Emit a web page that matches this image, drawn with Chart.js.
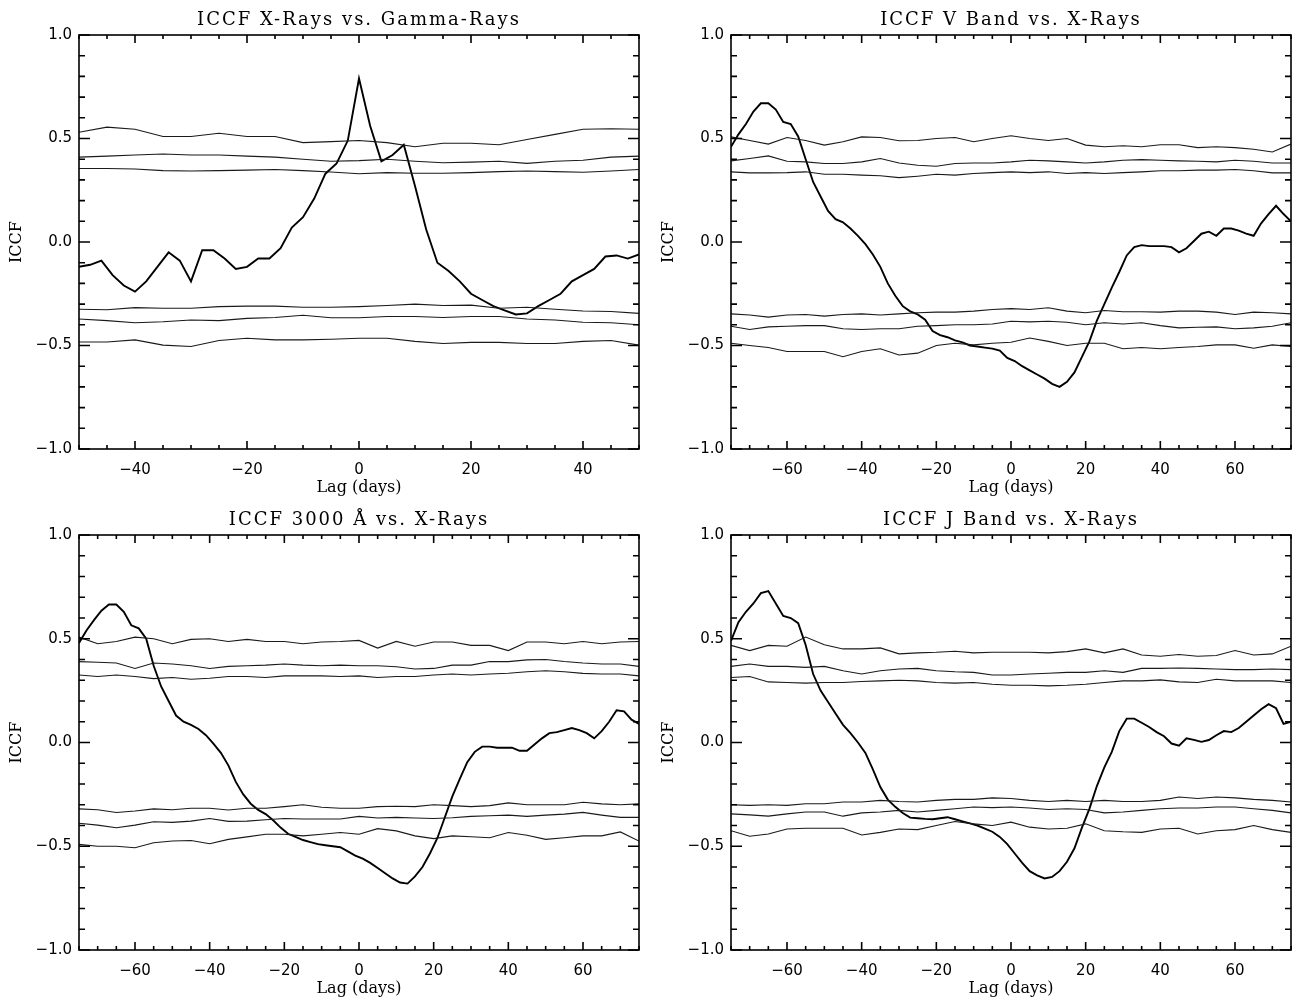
<!DOCTYPE html>
<html>
<head>
<meta charset="utf-8">
<script src="https://cdn.jsdelivr.net/npm/chart.js@4.4.0/dist/chart.umd.min.js"></script>
<style>
  body { margin: 0; background: #fff; }
  #wrap { position: relative; width: 1303px; height: 1001px; background: #fff; }
  canvas { position: absolute; }
</style>
</head>
<body>
<div id="wrap">
  <canvas id="c1" width="651" height="500" style="left:0;top:0"></canvas>
  <canvas id="c2" width="651" height="500" style="left:652px;top:0"></canvas>
  <canvas id="c3" width="651" height="501" style="left:0;top:500px"></canvas>
  <canvas id="c4" width="651" height="501" style="left:652px;top:500px"></canvas>
</div>
<script>
// lags (days)
const mainLag50 = [-50,-48,-46,-44,-42,-40,-38,-36,-34,-32,-30,-28,-26,-24,-22,-20,-18,-16,-14,-12,-10,-8,-6,-4,-2,
  0,2,4,6,8,10,12,14,16,18,20,22,24,26,28,30,32,34,36,38,40,42,44,46,48,50];
const confLag50 = [-50,-45,-40,-35,-30,-25,-20,-15,-10,-5,0,5,10,15,20,25,30,35,40,45,50];
const mainLag75 = [-75,-73,-71,-69,-67,-65,-63,-61,-59,-57,-55,-53,-51,-49,-47,-45,-43,-41,-39,-37,-35,-33,-31,-29,-27,
  -25,-23,-21,-19,-17,-15,-13,-11,-9,-7,-5,-3,-1,1,3,5,7,9,11,13,15,17,19,21,23,25,27,29,31,33,35,37,39,41,43,45,47,
  49,51,53,55,57,59,61,63,65,67,69,71,73,75];
const confLag75 = [-75,-70,-65,-60,-55,-50,-45,-40,-35,-30,-25,-20,-15,-10,-5,0,5,10,15,20,25,30,35,40,45,50,55,60,65,70,75];

// X-Rays vs. Gamma-Rays
const xgIccf = [-0.12,-0.11,-0.09,-0.16,-0.21,-0.24,-0.19,-0.12,-0.05,-0.09,-0.19,-0.04,-0.04,-0.08,-0.13,-0.12,-0.08,
  -0.08,-0.03,0.07,0.12,0.21,0.33,0.38,0.49,0.79,0.56,0.39,0.42,0.47,0.27,0.06,-0.10,-0.14,-0.19,-0.25,-0.28,-0.31,
  -0.33,-0.35,-0.345,-0.31,-0.28,-0.25,-0.19,-0.16,-0.13,-0.07,-0.065,-0.08,-0.06];
const xgUp1 = [0.53,0.555,0.545,0.51,0.51,0.525,0.51,0.51,0.48,0.485,0.49,0.48,0.46,0.477,0.477,0.47,0.495,0.52,0.545,0.547,0.545];
const xgUp2 = [0.41,0.415,0.42,0.425,0.42,0.42,0.415,0.41,0.40,0.39,0.393,0.40,0.39,0.383,0.386,0.39,0.38,0.39,0.395,0.41,0.415];
const xgUp3 = [0.355,0.355,0.353,0.345,0.343,0.345,0.347,0.35,0.345,0.338,0.33,0.335,0.332,0.332,0.335,0.34,0.343,0.34,0.337,0.343,0.35];
const xgLo1 = [-0.325,-0.327,-0.317,-0.32,-0.32,-0.312,-0.31,-0.31,-0.315,-0.315,-0.312,-0.307,-0.30,-0.307,-0.305,-0.32,-0.315,-0.325,-0.333,-0.336,-0.345];
const xgLo2 = [-0.372,-0.38,-0.39,-0.385,-0.377,-0.38,-0.369,-0.365,-0.354,-0.366,-0.366,-0.36,-0.36,-0.365,-0.36,-0.36,-0.372,-0.377,-0.388,-0.39,-0.40];
const xgLo3 = [-0.483,-0.483,-0.473,-0.498,-0.505,-0.476,-0.465,-0.473,-0.473,-0.47,-0.465,-0.465,-0.48,-0.49,-0.485,-0.485,-0.49,-0.49,-0.48,-0.476,-0.498];

// V Band vs. X-Rays
const vIccf = [0.46,0.52,0.57,0.63,0.67,0.67,0.64,0.58,0.57,0.51,0.40,0.29,0.22,0.15,0.11,0.095,0.065,0.03,-0.01,-0.06,
  -0.12,-0.20,-0.26,-0.31,-0.335,-0.35,-0.375,-0.43,-0.45,-0.46,-0.475,-0.485,-0.50,-0.505,-0.51,-0.515,-0.525,-0.56,
  -0.575,-0.60,-0.62,-0.64,-0.66,-0.685,-0.70,-0.675,-0.63,-0.555,-0.48,-0.38,-0.30,-0.22,-0.145,-0.065,-0.025,-0.015,
  -0.02,-0.02,-0.02,-0.025,-0.05,-0.03,0.005,0.04,0.05,0.03,0.065,0.065,0.055,0.04,0.03,0.09,0.135,0.175,0.135,0.10];
const vUp1 = [0.508,0.49,0.473,0.505,0.49,0.468,0.484,0.508,0.505,0.489,0.49,0.50,0.505,0.484,0.50,0.513,0.50,0.49,0.50,0.468,0.46,0.465,0.46,0.47,0.47,0.456,0.46,0.456,0.448,0.435,0.473];
const vUp2 = [0.392,0.403,0.416,0.39,0.387,0.379,0.379,0.387,0.403,0.382,0.371,0.366,0.379,0.382,0.382,0.387,0.395,0.392,0.387,0.382,0.387,0.395,0.398,0.395,0.392,0.39,0.387,0.395,0.39,0.382,0.382];
const vUp3 = [0.339,0.334,0.334,0.335,0.339,0.327,0.327,0.323,0.32,0.311,0.318,0.327,0.323,0.331,0.335,0.339,0.335,0.339,0.331,0.335,0.331,0.335,0.339,0.344,0.344,0.347,0.347,0.35,0.344,0.334,0.334];
const vLo1 = [-0.347,-0.353,-0.363,-0.353,-0.35,-0.358,-0.35,-0.347,-0.353,-0.347,-0.342,-0.339,-0.339,-0.334,-0.326,-0.322,-0.326,-0.318,-0.334,-0.342,-0.331,-0.337,-0.337,-0.339,-0.334,-0.334,-0.339,-0.35,-0.339,-0.342,-0.347];
const vLo2 = [-0.407,-0.423,-0.41,-0.407,-0.404,-0.404,-0.419,-0.423,-0.419,-0.419,-0.407,-0.404,-0.40,-0.40,-0.396,-0.383,-0.386,-0.383,-0.388,-0.40,-0.39,-0.396,-0.39,-0.404,-0.415,-0.412,-0.41,-0.419,-0.415,-0.407,-0.39];
const vLo3 = [-0.489,-0.50,-0.51,-0.529,-0.529,-0.529,-0.554,-0.529,-0.516,-0.546,-0.537,-0.50,-0.489,-0.497,-0.489,-0.484,-0.464,-0.48,-0.50,-0.489,-0.489,-0.516,-0.51,-0.516,-0.51,-0.505,-0.497,-0.497,-0.513,-0.497,-0.505];

// 3000 A vs. X-Rays
const uvIccf = [0.48,0.54,0.59,0.635,0.665,0.665,0.63,0.565,0.55,0.50,0.37,0.27,0.20,0.13,0.10,0.085,0.065,0.035,-0.005,
  -0.05,-0.11,-0.19,-0.25,-0.295,-0.325,-0.345,-0.375,-0.41,-0.44,-0.455,-0.47,-0.48,-0.49,-0.495,-0.50,-0.505,-0.525,
  -0.545,-0.56,-0.58,-0.605,-0.63,-0.655,-0.675,-0.68,-0.645,-0.60,-0.535,-0.46,-0.36,-0.26,-0.175,-0.095,-0.045,-0.02,
  -0.02,-0.025,-0.025,-0.025,-0.04,-0.04,-0.01,0.02,0.045,0.05,0.06,0.07,0.06,0.045,0.02,0.055,0.10,0.155,0.15,0.11,0.09];
const uvUp1 = [0.508,0.476,0.487,0.508,0.50,0.476,0.497,0.50,0.487,0.497,0.487,0.487,0.476,0.484,0.487,0.492,0.455,0.487,0.464,0.484,0.484,0.468,0.468,0.443,0.484,0.484,0.476,0.487,0.476,0.484,0.487];
const uvUp2 = [0.39,0.387,0.383,0.357,0.383,0.378,0.37,0.357,0.367,0.37,0.373,0.378,0.373,0.37,0.373,0.37,0.37,0.365,0.354,0.357,0.373,0.373,0.39,0.39,0.398,0.40,0.39,0.383,0.378,0.378,0.367];
const uvUp3 = [0.325,0.318,0.325,0.318,0.308,0.313,0.305,0.31,0.318,0.318,0.313,0.321,0.321,0.321,0.318,0.321,0.313,0.318,0.318,0.325,0.33,0.325,0.33,0.334,0.341,0.346,0.341,0.333,0.33,0.33,0.321];
const uvLo1 = [-0.32,-0.324,-0.337,-0.33,-0.32,-0.324,-0.317,-0.317,-0.325,-0.317,-0.317,-0.309,-0.30,-0.312,-0.317,-0.317,-0.309,-0.307,-0.309,-0.30,-0.304,-0.309,-0.304,-0.291,-0.30,-0.30,-0.30,-0.288,-0.296,-0.30,-0.296];
const uvLo2 = [-0.389,-0.398,-0.411,-0.398,-0.382,-0.385,-0.379,-0.366,-0.38,-0.379,-0.372,-0.366,-0.369,-0.369,-0.369,-0.356,-0.364,-0.361,-0.364,-0.366,-0.363,-0.356,-0.353,-0.35,-0.356,-0.35,-0.345,-0.337,-0.35,-0.361,-0.361];
const uvLo3 = [-0.491,-0.50,-0.50,-0.507,-0.483,-0.475,-0.472,-0.488,-0.467,-0.455,-0.442,-0.442,-0.45,-0.442,-0.434,-0.442,-0.415,-0.426,-0.45,-0.463,-0.45,-0.454,-0.459,-0.434,-0.447,-0.467,-0.459,-0.45,-0.45,-0.431,-0.475];

// J Band vs. X-Rays
const jIccf = [0.49,0.58,0.63,0.67,0.72,0.73,0.67,0.61,0.60,0.575,0.47,0.33,0.25,0.195,0.14,0.085,0.045,0.0,-0.05,-0.13,
  -0.215,-0.275,-0.31,-0.34,-0.362,-0.365,-0.368,-0.37,-0.365,-0.36,-0.37,-0.38,-0.39,-0.40,-0.415,-0.43,-0.455,-0.49,
  -0.535,-0.58,-0.62,-0.64,-0.655,-0.648,-0.62,-0.575,-0.51,-0.41,-0.32,-0.21,-0.12,-0.045,0.055,0.115,0.115,0.095,
  0.075,0.05,0.03,-0.005,-0.015,0.02,0.013,0.003,0.012,0.035,0.055,0.05,0.07,0.10,0.13,0.16,0.185,0.165,0.09,0.10];
const jUp1 = [0.468,0.443,0.468,0.464,0.508,0.471,0.451,0.451,0.456,0.427,0.432,0.435,0.44,0.432,0.435,0.435,0.435,0.432,0.438,0.451,0.432,0.451,0.422,0.416,0.424,0.416,0.419,0.443,0.422,0.427,0.464];
const jUp2 = [0.367,0.378,0.367,0.367,0.362,0.367,0.346,0.33,0.346,0.354,0.357,0.346,0.341,0.338,0.325,0.325,0.33,0.334,0.338,0.338,0.346,0.338,0.357,0.357,0.359,0.357,0.354,0.351,0.351,0.354,0.351];
const jUp3 = [0.313,0.318,0.292,0.289,0.286,0.289,0.289,0.294,0.297,0.30,0.297,0.289,0.286,0.289,0.281,0.276,0.276,0.273,0.276,0.281,0.289,0.297,0.297,0.302,0.292,0.289,0.305,0.297,0.297,0.297,0.289];
const jLo1 = [-0.30,-0.303,-0.30,-0.303,-0.295,-0.295,-0.287,-0.287,-0.279,-0.284,-0.287,-0.279,-0.274,-0.274,-0.267,-0.27,-0.279,-0.284,-0.279,-0.284,-0.279,-0.284,-0.284,-0.279,-0.263,-0.27,-0.263,-0.267,-0.274,-0.279,-0.287];
const jLo2 = [-0.344,-0.349,-0.355,-0.344,-0.335,-0.335,-0.355,-0.339,-0.335,-0.327,-0.335,-0.327,-0.319,-0.311,-0.314,-0.311,-0.316,-0.323,-0.319,-0.323,-0.339,-0.335,-0.327,-0.319,-0.316,-0.316,-0.311,-0.311,-0.319,-0.327,-0.339];
const jLo3 = [-0.425,-0.452,-0.441,-0.417,-0.413,-0.413,-0.413,-0.446,-0.433,-0.417,-0.42,-0.40,-0.381,-0.392,-0.40,-0.384,-0.408,-0.417,-0.413,-0.392,-0.425,-0.43,-0.433,-0.417,-0.413,-0.441,-0.425,-0.42,-0.40,-0.42,-0.433];

const minus = (s) => s.replace('-', '\u2212');

// IDL style frame: box round the plot, ticks pointing inward on all four sides
const idlFrame = {
  id: 'idlFrame',
  afterDatasetsDraw(chart) {
    const { ctx, chartArea: a, scales: { x, y } } = chart;
    ctx.save();
    ctx.strokeStyle = '#000';
    ctx.lineWidth = 1.6;
    ctx.strokeRect(a.left, a.top, a.right - a.left, a.bottom - a.top);
    ctx.beginPath();
    x.ticks.forEach((t) => {
      const px = x.getPixelForValue(t.value);
      const len = t.label ? 8 : 4;
      ctx.moveTo(px, a.bottom); ctx.lineTo(px, a.bottom - len);
      ctx.moveTo(px, a.top); ctx.lineTo(px, a.top + len);
    });
    y.ticks.forEach((t) => {
      const py = y.getPixelForValue(t.value);
      const len = t.label ? 11 : 6;
      ctx.moveTo(a.left, py); ctx.lineTo(a.left + len, py);
      ctx.moveTo(a.right, py); ctx.lineTo(a.right - len, py);
    });
    ctx.stroke();
    ctx.restore();
  },
};

function makePanel(id, title, xMax, mainLag, mainVals, confLag, confs) {
  const panelTitle = {
    id: 'panelTitle',
    afterDraw(chart) {
      const { ctx, chartArea: a } = chart;
      ctx.save();
      ctx.font = '18px "DejaVu Serif"';
      ctx.letterSpacing = '2px';
      ctx.fillStyle = '#000';
      ctx.textAlign = 'center';
      ctx.textBaseline = 'alphabetic';
      ctx.fillText(title, (a.left + a.right) / 2, a.top - 10);
      ctx.restore();
    },
  };

  const datasets = confs.map((vals) => ({
    data: confLag.map((x, i) => ({ x, y: vals[i] })),
    borderColor: '#1a1a1a',
    borderWidth: 1.1,
  }));
  datasets.push({
    data: mainLag.map((x, i) => ({ x, y: mainVals[i] })),
    borderColor: '#000',
    borderWidth: 1.9,
  });

  return new Chart(document.getElementById(id), {
    type: 'line',
    data: { datasets },
    options: {
      responsive: false,
      animation: false,
      devicePixelRatio: 1,
      layout: { padding: { top: 35, right: 9, left: 0, bottom: 0 } },
      elements: { point: { radius: 0 }, line: { tension: 0 } },
      plugins: {
        legend: { display: false },
        tooltip: { enabled: false },
        title: { display: false },
      },
      scales: {
        x: {
          type: 'linear',
          min: -xMax,
          max: xMax,
          grid: { display: false, drawTicks: false },
          border: { display: false },
          ticks: {
            stepSize: 5,
            autoSkip: false,
            maxRotation: 0,
            padding: 12,
            color: '#000',
            font: { family: 'DejaVu Sans', size: 15 },
            callback: (v) => (v % 20 === 0 ? minus(String(v)) : ''),
          },
          title: {
            display: true,
            text: 'Lag (days)',
            color: '#000',
            font: { family: 'DejaVu Serif', size: 16 },
            padding: { top: 0, bottom: 3 },
          },
          afterFit: (s) => { s.height = 51; },
        },
        y: {
          min: -1,
          max: 1,
          grid: { display: false, drawTicks: false },
          border: { display: false },
          ticks: {
            stepSize: 0.1,
            autoSkip: false,
            padding: 7,
            color: '#000',
            font: { family: 'DejaVu Sans', size: 15 },
            callback: (v) => (Math.round(v * 10) % 5 === 0 ? minus((Math.round(v * 10) / 10).toFixed(1)) : ''),
          },
          title: {
            display: true,
            text: 'ICCF',
            color: '#000',
            font: { family: 'DejaVu Serif', size: 16 },
            padding: { top: 7, bottom: 0 },
          },
          afterFit: (s) => { s.width = 79; },
        },
      },
    },
    plugins: [idlFrame, panelTitle],
  });
}

makePanel('c1', 'ICCF X-Rays vs. Gamma-Rays', 50, mainLag50, xgIccf, confLag50,
  [xgUp1, xgUp2, xgUp3, xgLo1, xgLo2, xgLo3]);
makePanel('c2', 'ICCF V Band vs. X-Rays', 75, mainLag75, vIccf, confLag75,
  [vUp1, vUp2, vUp3, vLo1, vLo2, vLo3]);
makePanel('c3', 'ICCF 3000 \u00C5 vs. X-Rays', 75, mainLag75, uvIccf, confLag75,
  [uvUp1, uvUp2, uvUp3, uvLo1, uvLo2, uvLo3]);
makePanel('c4', 'ICCF J Band vs. X-Rays', 75, mainLag75, jIccf, confLag75,
  [jUp1, jUp2, jUp3, jLo1, jLo2, jLo3]);
</script>
</body>
</html>
